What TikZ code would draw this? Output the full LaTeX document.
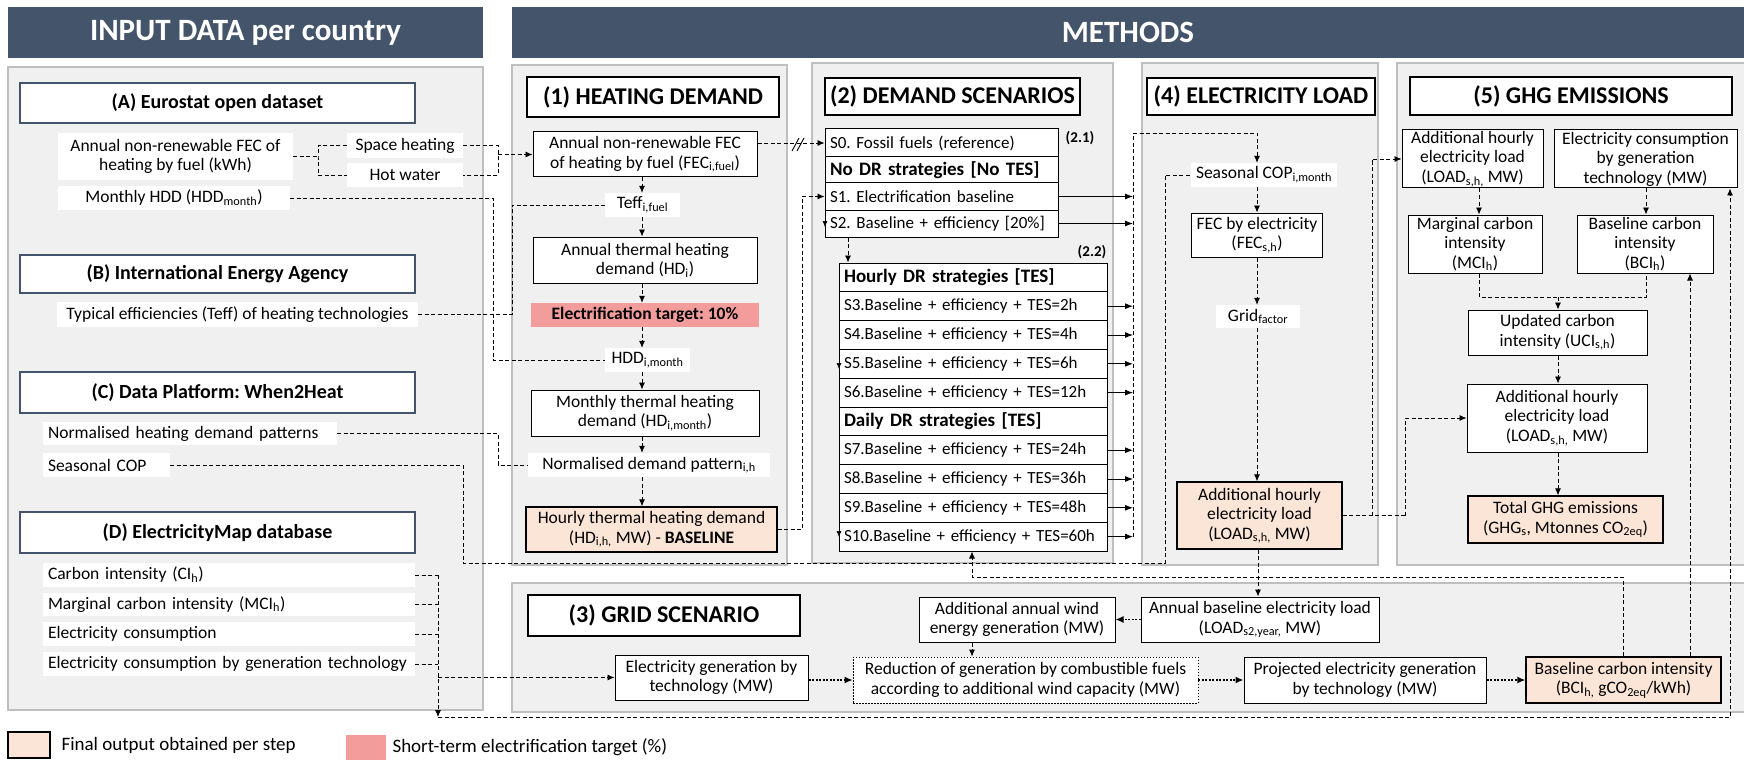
\documentclass[tikz,border=0pt]{standalone}
\usepackage{fontspec}
\setmainfont{Carlito}
\usetikzlibrary{arrows.meta,calc}
\definecolor{hdr}{HTML}{44546A}
\definecolor{pnl}{HTML}{F0F0F0}
\definecolor{pbd}{HTML}{BFBFBF}
\definecolor{peach}{HTML}{FBE5D6}
\definecolor{salmon}{HTML}{F29C9C}
\newcommand\sbs[1]{\textsubscript{#1}}
\newcommand\bodyf{\fontsize{17.5}{19.5}\selectfont}
\newcommand\rowf{\fontsize{17}{19}\selectfont}
\begin{document}
\frenchspacing
\begin{tikzpicture}[x=1pt,y=-1pt,
  hdrbox/.style={fill=hdr, text=white, inner sep=0pt, font=\bfseries\fontsize{31}{35}\selectfont},
  pan/.style={fill=pnl, draw=pbd, line width=1.5pt},
  src/.style={draw=hdr, fill=white, line width=1.2pt, inner sep=0pt, minimum width=395pt, font=\bfseries\fontsize{20}{24}\selectfont},
  ttl/.style={draw=black, fill=white, line width=1.4pt, inner sep=0pt, font=\bfseries\fontsize{24}{28}\selectfont},
  lab/.style={fill=white, inner xsep=5pt, inner ysep=1pt, align=center, font=\bodyf},
  box/.style={draw=black, fill=white, line width=1pt, inner xsep=5pt, inner ysep=1pt, align=center, font=\bodyf},
  fin/.style={box, fill=peach, line width=1.3pt},
  tgt/.style={fill=salmon, inner sep=0pt, font=\bfseries\bodyf},
  row/.style={draw=black, fill=white, line width=1pt, inner xsep=5pt, inner ysep=0pt, align=left, font=\rowf},
  rowa/.style={row, text width=223pt},
  rowb/.style={row, text width=258pt},
  rowh/.style={font=\bfseries\fontsize{19}{21}\selectfont},
  dl/.style={line width=0.8pt, dash pattern=on 4pt off 2.5pt},
  da/.style={dl, -{Latex[length=7pt,width=6pt]}},
  sa/.style={line width=0.9pt, -{Latex[length=8pt,width=6pt]}},
  ga/.style={line width=1.5pt, dash pattern=on 2pt off 1.5pt, -{Latex[length=8pt,width=7pt]}},
]
\useasboundingbox (0,0) rectangle (1744,762);
\fill[white] (0,0) rectangle (1744,762);

% headers
\node[hdrbox, minimum width=475pt, minimum height=51pt] (hIn) at (245.5,32.5) {INPUT DATA per country};
\node[hdrbox, minimum width=1232pt, minimum height=51pt] (hMe) at (1128,32.5) {METHODS};

% panels
\draw[pan] (8,67) rectangle (483,710);
\draw[pan] (512,65) rectangle (787,565);
\draw[pan] (812,63) rectangle (1113,563);
\draw[pan] (1142,63) rectangle (1378,565);
\draw[pan] (1397,63) rectangle (1770,565);
\draw[pan] (512,583) rectangle (1770,712);

% ---------- input data
\node[src, minimum height=40pt] (tA) at (217.5,103) {(A) Eurostat open dataset};
\node[lab, minimum width=235pt, minimum height=47pt] (lFEC) at (175.5,156.5) {Annual non-renewable FEC of\\heating by fuel (kWh)};
\node[lab, minimum width=116pt, minimum height=25pt] (lSH) at (405,145.5) {Space heating};
\node[lab, minimum width=116pt, minimum height=24pt] (lHW) at (405,175) {Hot water};
\node[lab, minimum width=232pt, minimum height=24pt] (lHDD) at (174,198) {Monthly HDD (HDD\sbs{month})};
\node[src, minimum height=38pt] (tB) at (217.5,274) {(B) International Energy Agency};
\node[lab, minimum width=361pt, minimum height=25pt] (lTeff) at (237.5,314.5) {Typical efficiencies (Teff) of heating technologies};
\node[src, minimum height=41pt] (tC) at (217.5,392.5) {(C) Data Platform: When2Heat};
\node[lab, text width=284pt, align=left, minimum height=23pt] (lNorm) at (190,433.5) {Normalised heating demand patterns};
\node[lab, text width=117pt, align=left, minimum height=24pt] (lSCOP) at (106.5,465) {Seasonal COP};
\node[src, minimum height=41pt] (tD) at (217.5,532.5) {(D) ElectricityMap database};
\node[lab, text width=362pt, align=left, minimum height=24pt] (lCI) at (229,575) {Carbon intensity (CI\sbs{h})};
\node[lab, text width=362pt, align=left, minimum height=23pt] (lMCI) at (229,604.5) {Marginal carbon intensity (MCI\sbs{h})};
\node[lab, text width=362pt, align=left, minimum height=24pt] (lEC) at (229,634) {Electricity consumption};
\node[lab, text width=362pt, align=left, minimum height=24pt] (lECG) at (229,664) {Electricity consumption by generation technology};

% ---------- (1)
\node[ttl, minimum width=252pt, minimum height=40pt] (t1) at (653,97) {(1) HEATING DEMAND};
\node[box, minimum width=224pt, minimum height=45pt] (b1FEC) at (645,154.5) {Annual non-renewable FEC\\of heating by fuel (FEC\sbs{i,fuel})};
\node[lab, minimum width=75pt, minimum height=24pt] (l1Teff) at (642.5,205) {Teff\sbs{i,fuel}};
\node[box, minimum width=224pt, minimum height=46pt] (b1HD) at (645,260) {Annual thermal heating\\demand (HD\sbs{i})};
\node[tgt, minimum width=228pt, minimum height=24pt] (b1ET) at (645,315) {Electrification target: 10\%};
\node[lab, minimum width=85pt, minimum height=24pt] (l1HDD) at (647.5,360) {HDD\sbs{i,month}};
\node[box, minimum width=228pt, minimum height=46pt] (b1MHD) at (645,413) {Monthly thermal heating\\demand (HD\sbs{i,month})};
\node[lab, minimum width=242pt, minimum height=24pt] (l1NDP) at (649,465) {Normalised demand pattern\sbs{i,h}};
\node[fin, minimum width=251pt, minimum height=45pt] (b1HHD) at (651.5,529.5) {Hourly thermal heating demand\\(HD\sbs{i,h,} MW) - \textbf{BASELINE}};

% ---------- (2)
\node[ttl, minimum width=255pt, minimum height=37pt] (t2) at (952.5,96.5) {(2) DEMAND SCENARIOS};
\node[rowa, minimum height=28pt] (r0) at (941.5,143) {S0. Fossil fuels (reference)};
\node[rowa, rowh, minimum height=26pt] (rNo) at (941.5,170) {No DR strategies [No TES]};
\node[rowa, minimum height=27pt] (r1) at (941.5,196.5) {S1. Electrification baseline};
\node[rowa, minimum height=27pt] (r2) at (941.5,223.5) {\mbox{S2. Baseline + efficiency [20\%]}};
\node[font=\bfseries\fontsize{15}{17}\selectfont] (n21) at (1080,138) {(2.1)};
\node[font=\bfseries\fontsize{15}{17}\selectfont] (n22) at (1092,252) {(2.2)};
\node[rowb, rowh, minimum height=28.8pt] (hH) at (973,277.4) {Hourly DR strategies [TES]};
\node[rowb, minimum height=28.8pt] (r3) at (973,306.2) {\mbox{S3.Baseline + efficiency + TES=2h}};
\node[rowb, minimum height=28.8pt] (r4) at (973,335) {\mbox{S4.Baseline + efficiency + TES=4h}};
\node[rowb, minimum height=28.8pt] (r5) at (973,363.8) {\mbox{S5.Baseline + efficiency + TES=6h}};
\node[rowb, minimum height=28.8pt] (r6) at (973,392.6) {\mbox{S6.Baseline + efficiency + TES=12h}};
\node[rowb, rowh, minimum height=28.8pt] (hD) at (973,421.4) {Daily DR strategies [TES]};
\node[rowb, minimum height=28.8pt] (r7) at (973,450.2) {\mbox{S7.Baseline + efficiency + TES=24h}};
\node[rowb, minimum height=28.8pt] (r8) at (973,479) {\mbox{S8.Baseline + efficiency + TES=36h}};
\node[rowb, minimum height=28.8pt] (r9) at (973,507.8) {\mbox{S9.Baseline + efficiency + TES=48h}};
\node[rowb, minimum height=28.8pt] (r10) at (973,536.6) {\mbox{S10.Baseline + efficiency + TES=60h}};

% ---------- (4)
\node[ttl, minimum width=228pt, minimum height=37pt] (t4) at (1261,96.5) {(4) ELECTRICITY LOAD};
\node[lab, minimum width=132pt, minimum height=24pt] (l4SCOP) at (1264,175) {Seasonal COP\sbs{i,month}};
\node[box, minimum width=105pt, minimum height=44pt] (b4FEC) at (1257,235) {FEC by electricity\\(FEC\sbs{s,h})};
\node[lab, minimum width=84pt, minimum height=23pt] (l4Grid) at (1258,316.5) {Grid\sbs{factor}};
\node[fin, minimum width=165pt, minimum height=67pt] (b4Load) at (1259.5,515.5) {Additional hourly\\electricity load\\(LOAD\sbs{s,h,} MW)};

% ---------- (5)
\node[ttl, minimum width=322pt, minimum height=38pt] (t5) at (1571,96) {(5) GHG EMISSIONS};
\node[box, minimum width=141pt, minimum height=58pt] (b5AL1) at (1472.5,159) {Additional hourly\\electricity load\\(LOAD\sbs{s,h,} MW)};
\node[box, minimum width=183pt, minimum height=58pt] (b5ECG) at (1645.5,159) {Electricity consumption\\by generation\\technology (MW)};
\node[box, minimum width=134pt, minimum height=58pt] (b5MCI) at (1475,244) {Marginal carbon\\intensity\\(MCI\sbs{h})};
\node[box, minimum width=136pt, minimum height=58pt] (b5BCI) at (1645,244) {Baseline carbon\\intensity\\(BCI\sbs{h})};
\node[box, minimum width=179pt, minimum height=45pt] (b5UCI) at (1557.5,332.5) {Updated carbon\\intensity (UCI\sbs{s,h})};
\node[box, minimum width=180pt, minimum height=68pt] (b5AL2) at (1557,418) {Additional hourly\\electricity load\\(LOAD\sbs{s,h,} MW)};
\node[fin, minimum width=195pt, minimum height=47pt] (b5GHG) at (1565.5,519.5) {Total GHG emissions\\(GHG\sbs{s}, Mtonnes CO\sbs{2eq})};

% ---------- (3)
\node[ttl, minimum width=272pt, minimum height=41pt] (t3) at (664,615.5) {(3) GRID SCENARIO};
\node[box, minimum width=196pt, minimum height=45pt] (b3Wind) at (1017,619.5) {Additional annual wind\\energy generation (MW)};
\node[box, minimum width=238pt, minimum height=45pt] (b3ABL) at (1260,619.5) {Annual baseline electricity load\\(LOAD\sbs{s2,year,} MW)};
\node[box, minimum width=193pt, minimum height=45pt] (b3EG) at (711.5,677.5) {Electricity generation by\\technology (MW)};
\node[box, dash pattern=on 1.5pt off 1.5pt, line width=0.8pt, minimum width=345pt, minimum height=46pt] (b3Red) at (1025.5,680) {Reduction of generation by combustible fuels\\according to additional wind capacity (MW)};
\node[box, minimum width=242pt, minimum height=46pt] (b3Proj) at (1365,680) {Projected electricity generation\\by technology (MW)};
\node[fin, minimum width=195pt, minimum height=46pt] (b3BCI) at (1623.5,680) {Baseline carbon intensity\\(BCI\sbs{h,} gCO\sbs{2eq}/kWh)};

% ---------- legend
\node[draw=black, fill=peach, line width=1.2pt, minimum width=42pt, minimum height=26pt] (lg1) at (29,745) {};
\node[anchor=west, font=\fontsize{19}{22}\selectfont] (lg1t) at (58,745) {Final output obtained per step};
\node[fill=salmon, minimum width=40pt, minimum height=25pt, inner sep=0pt] (lg2) at (366,747.5) {};
\node[anchor=west, font=\fontsize{19}{22}\selectfont] (lg2t) at (389,747) {Short-term electrification target (\%)};

% ---------- helper coordinates
\coordinate (x642) at (642,0);
\coordinate (x848) at (848,0);
\coordinate (x1257) at (1257,0);
\coordinate (x1258) at (1258,0);
\coordinate (x1479) at (1479,0);
\coordinate (x1646) at (1646,0);
\coordinate (x1690) at (1690,0);
\coordinate (k1) at (802,0);
\coordinate (busT) at (1133,133);
\coordinate (busB) at (1133,536.6);
\coordinate (jA) at (318,156.5);
\coordinate (jB) at (498,154.5);
\coordinate (jH) at (493,0);
\coordinate (jT) at (512,0);
\coordinate (jN) at (498,0);
\coordinate (jS1) at (463,563);
\coordinate (jS2) at (1165,563);
\coordinate (dT) at (438,575);
\coordinate (dB) at (438,717);
\coordinate (dM) at (438,677.5);
\coordinate (eR) at (1730,717);
\coordinate (q1) at (1623,577);
\coordinate (q2) at (972,577);
\coordinate (v1) at (1372,0);
\coordinate (v2) at (1405,0);
\coordinate (m1) at (1479,297);
\coordinate (m2) at (1646,297);
\coordinate (m3) at (1558,297);
\coordinate (x972) at (972,0);

% ---------- input connectors
\draw[dl] (lFEC.east) -- (jA);
\draw[dl] (lSH.west) -| (jA) |- (lHW.west);
\draw[dl] (lSH.east) -| (jB) |- (lHW.east);
\draw[da] (jB) -- (b1FEC.west);
\draw[dl] (lHDD.east) -| (jH |- l1HDD.west) -- (l1HDD.west);
\draw[dl] (lTeff.east) -| (jT |- l1Teff.west) -- (l1Teff.west);
\draw[dl] (lNorm.east) -| (jN |- l1NDP.west) -- (l1NDP.west);
\draw[dl] (lSCOP.east) -| (jS1) -- (jS2) |- (l4SCOP.west);
\draw[dl] (lCI.east) -- (dT);
\draw[da] (dT) -- (dB);
\draw[dl] (lMCI.east) -- (lMCI.east -| dT);
\draw[dl] (lEC.east) -- (lEC.east -| dT);
\draw[dl] (lECG.east) -- (lECG.east -| dT);
\draw[da] (dM) -- (b3EG.west);
\draw[da] (dB) -- (eR) -- (eR |- b5ECG.south);

% ---------- (1) connectors
\foreach \a/\b in {b1FEC/l1Teff, l1Teff/b1HD, b1HD/b1ET, b1ET/l1HDD, l1HDD/b1MHD, b1MHD/l1NDP, l1NDP/b1HHD}
  \draw[da] (\a.south -| x642) -- (\b.north -| x642);
\draw[da] (r0.west -| b1FEC.east) -- (r0.west);
\draw[line width=0.9pt] (792,151) -- (799,138) (797,151) -- (804,138);
\draw[da] (b1HHD.east) -| (k1 |- r1.west) -- (r1.west);

% ---------- (2) connectors
\draw[da] (r2.south -| x848) -- (hH.north -| x848);
\draw[-{Latex[length=6pt,width=5pt]}, line width=0.6pt] (825,214) -- (825,227);
\draw[-{Latex[length=6pt,width=5pt]}, line width=0.6pt] (839,356) -- (839,369);
\draw[-{Latex[length=6pt,width=5pt]}, line width=0.6pt] (839,524) -- (839,537);
\foreach \r in {r1,r2,r3,r4,r5,r6,r7,r8,r9,r10}
  \draw[sa] (\r.east) -- (\r.east -| busT);
\draw[dl] (busB) -- (busT);
\draw[da] (busT) -| (l4SCOP.north -| x1257);

% ---------- (4) connectors
\draw[da] (l4SCOP.south -| x1257) -- (b4FEC.north -| x1257);
\draw[da] (b4FEC.south -| x1257) -- (l4Grid.north -| x1257);
\draw[da] (l4Grid.south -| x1257) -- (b4Load.north -| x1257);
\draw[dl] (b4Load.east) -- (b4Load.east -| v2);
\draw[da] (b4Load.east -| v1) -- (v1 |- b5AL1.west) -- (b5AL1.west);
\draw[da] (b4Load.east -| v2) -- (v2 |- b5AL2.west) -- (b5AL2.west);
\draw[da] (b4Load.south -| x1258) -- (b3ABL.north -| x1258);

% ---------- (5) connectors
\draw[da] (b5AL1.south -| x1479) -- (b5MCI.north -| x1479);
\draw[da] (b5ECG.south -| x1646) -- (b5BCI.north -| x1646);
\draw[dl] (b5MCI.south -| m1) -- (m1) -- (m2) -- (b5BCI.south -| m2);
\draw[da] (m3) -- (b5UCI.north -| m3);
\draw[da] (b5UCI.south -| m3) -- (b5AL2.north -| m3);
\draw[da] (b5AL2.south -| m3) -- (b5GHG.north -| m3);

% ---------- (3) connectors
\draw[ga] (b3EG.east |- b3Red.west) -- (b3Red.west);
\draw[ga] (b3Red.east) -- (b3Proj.west);
\draw[ga] (b3Proj.east) -- (b3BCI.west);
\draw[ga] (b3ABL.west) -- (b3Wind.east);
\draw[da] (b3Wind.south -| x972) -- (b3Red.north -| x972);
\draw[da] (b3BCI.north -| q1) -- (q1) -- (q2) -- (r10.south -| q2);
\draw[da] (b3BCI.north -| x1690) -- (b5BCI.south -| x1690);
\end{tikzpicture}
\end{document}
